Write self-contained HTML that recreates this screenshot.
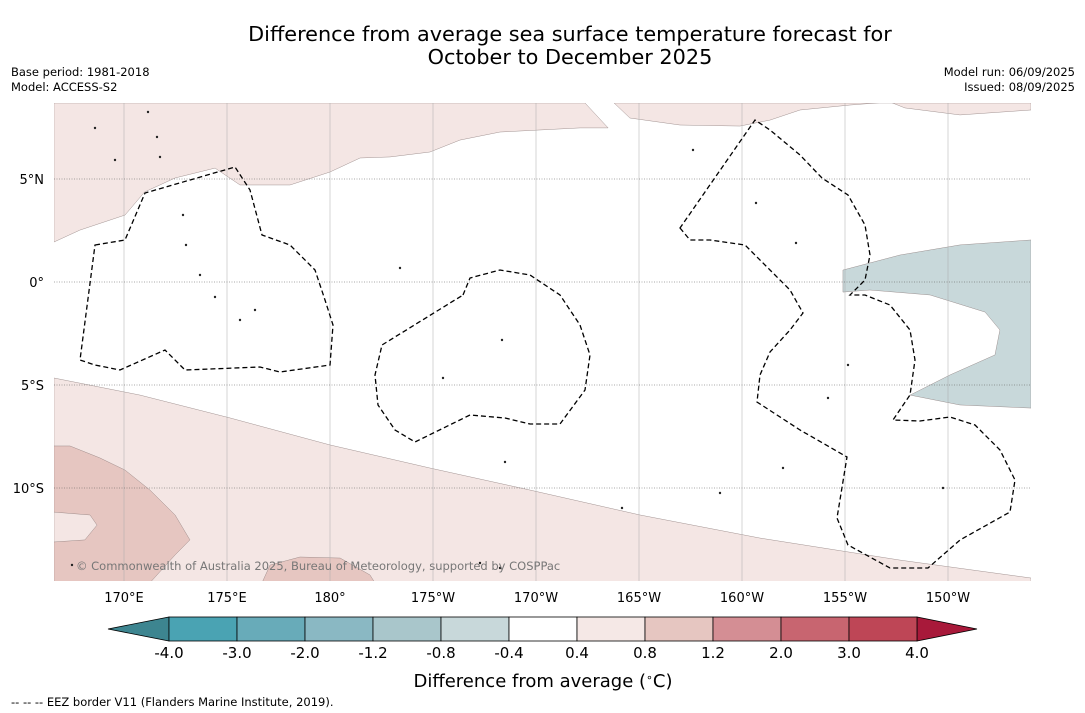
<!DOCTYPE html>
<html><head><meta charset="utf-8"><style>
body{margin:0;background:#fff;width:1085px;height:713px;overflow:hidden;font-family:"DejaVu Sans","Liberation Sans",sans-serif}
svg{position:absolute;left:0;top:0}
</style></head><body>
<svg id="s" width="1085" height="713" font-family="DejaVu Sans, Liberation Sans, sans-serif">
<text x="570" y="41" font-size="20.8" text-anchor="middle">Difference from average sea surface temperature forecast for</text>
<text x="570" y="64" font-size="20.8" text-anchor="middle">October to December 2025</text>
<text x="11" y="76" font-size="11.5">Base period: 1981-2018</text>
<text x="11" y="91" font-size="11.5">Model: ACCESS-S2</text>
<text x="1075" y="76" font-size="11.5" text-anchor="end">Model run: 06/09/2025</text>
<text x="1075" y="91" font-size="11.5" text-anchor="end">Issued: 08/09/2025</text>
<defs><clipPath id="mc"><rect x="54" y="103" width="977" height="478"/></clipPath></defs>
<g id="map" clip-path="url(#mc)"></g>
<g id="axes"></g>
<g id="cbar"></g>
<text x="543" y="687" font-size="18" text-anchor="middle">Difference from average (<tspan font-size="11" dy="-6">∘</tspan><tspan dy="6">C)</tspan></text>
<text x="11" y="706" font-size="11.5">--  --  -- EEZ border V11 (Flanders Marine Institute, 2019).</text>
</svg>
<script>
const lonTicks=[170,175,180,185,190,195,200,205,210];
const lonLabels=["170°E","175°E","180°","175°W","170°W","165°W","160°W","155°W","150°W"];
const latTicks=[5,0,-5,-10];
const latLabels=["5°N","0°","5°S","10°S"];
const cbBounds=[-4.0,-3.0,-2.0,-1.2,-0.8,-0.4,0.4,0.8,1.2,2.0,3.0,4.0];
const cbLabels=["-4.0","-3.0","-2.0","-1.2","-0.8","-0.4","0.4","0.8","1.2","2.0","3.0","4.0"];
const cbColors=["#4aa3b3","#68abb9","#8ab8c3","#a9c6cb","#c8d8da","#ffffff","#f5e8e6","#e6c6c1","#d48e94","#c86570","#be4656"];
const contourA=[[166.6,8.69],[166.6,1.94],[167.86,2.52],[170.05,3.25],[171.0,4.37],[172.48,5.05],[174.42,5.53],[175.63,4.71],[178.06,4.71],[180.0,5.34],[181.46,6.02],[182.91,6.07],[184.85,6.31],[186.31,6.89],[188.25,7.28],[192.14,7.48],[193.5,7.48],[192.38,8.69]];
const contourB=[[193.79,8.69],[194.56,7.96],[196.99,7.62],[199.9,7.57],[201.36,7.86],[202.82,8.35],[205.24,8.59],[207.18,8.74],[207.91,8.45],[210.58,8.11],[214.03,8.35],[214.03,8.69]];
const contourC=[[166.6,-4.66],[170.78,-5.49],[175.15,-6.6],[180.0,-7.91],[184.85,-9.03],[189.71,-10.1],[195.05,-11.31],[200.87,-12.43],[207.67,-13.5],[214.03,-14.37],[214.03,-14.6],[166.6,-14.6]];
const contourD=[[166.6,-7.96],[167.38,-7.96],[168.83,-8.54],[170.05,-9.13],[171.26,-10.1],[172.48,-11.31],[173.2,-12.52],[172.48,-13.25],[171.26,-14.6],[166.6,-14.6]];
const holeD=[[166.6,-11.17],[168.35,-11.31],[168.69,-11.8],[168.1,-12.52],[166.6,-12.62]];
const contourE=[[176.7,-14.6],[177.09,-13.74],[178.54,-13.35],[180.49,-13.4],[181.94,-14.22],[182.18,-14.6]];
const contourF=[[204.9,0.58],[207.67,1.31],[210.58,1.8],[214.03,2.04],[214.03,-6.12],[210.58,-5.97],[208.16,-5.49],[210.1,-4.51],[212.28,-3.54],[212.52,-2.33],[211.8,-1.46],[209.13,-0.63],[206.21,-0.39],[204.9,-0.49]];
const X=lon=>124+(lon-170)*20.6, Y=lat=>282-lat*20.6;
const NS="http://www.w3.org/2000/svg";
function mk(t,a,p){const e=document.createElementNS(NS,t);for(const k in a)e.setAttribute(k,a[k]);p.appendChild(e);return e;}
const map=document.getElementById('map'),axes=document.getElementById('axes'),cb=document.getElementById('cbar');
function poly(arr,fill,name){const e=mk('polygon',{points:arr.map(p=>X(p[0])+','+Y(p[1])).join(' '),fill:fill,stroke:'#8a7a78','stroke-width':0.4},map);

}
poly(contourA,'#f4e6e4','contour-north-west');
poly(contourB,'#f4e6e4','contour-north');
poly(contourC,'#f4e6e4','contour-south');
poly(contourD,'#e6c6c1','contour-south-west');
poly(holeD,'#f4e6e4','contour-hole');
poly(contourE,'#e6c6c1','contour-south-small');
poly(contourF,'#c8d8da','contour-east-cool');
lonTicks.forEach((l,i)=>{const g=mk('line',{x1:X(l),x2:X(l),y1:103,y2:581,stroke:'#aaa','stroke-width':0.5},map);


const t=mk('text',{x:X(l),y:602,'font-size':13,'text-anchor':'middle'},axes);t.textContent=lonLabels[i];

});
latTicks.forEach((l,i)=>{const g=mk('line',{x1:54,x2:1031,y1:Y(l),y2:Y(l),stroke:'#555','stroke-width':0.6,'stroke-dasharray':'1,1.5'},map);


const t=mk('text',{x:44,y:Y(l)+5,'font-size':13,'text-anchor':'end'},axes);t.textContent=latLabels[i];

});
const eez=["M95,245 L125,240 L145,193 L235,167 L250,190 L262,235 L290,245 L315,270 L325,300 L333,325 L330,365 L280,372 L260,367 L185,370 L165,350 L120,370 L95,365 L80,360 Z",
"M463,295 L470,278 L500,270 L530,275 L560,295 L580,325 L590,355 L585,390 L560,424 L530,424 L505,418 L470,415 L415,442 L395,430 L378,405 L375,375 L382,345 Z",
"M680,228 L690,240 L710,240 L745,245 L770,270 L790,290 L803,313 L790,330 L770,352 L760,375 L757,402 L800,430 L847,457 L837,518 L848,545 L890,568 L928,568 L960,540 L1010,512 L1015,480 L1000,450 L975,425 L950,417 L920,421 L893,420 L910,395 L915,360 L910,330 L890,305 L865,295 L850,295 L865,280 L870,255 L865,225 L848,195 L822,178 L800,155 L770,130 L755,120 Z"];
eez.forEach(d=>{const e=mk('path',{d:d,fill:'none',stroke:'#000','stroke-width':1.3,'stroke-dasharray':'5,3'},map);

});
[[157,137],[160,157],[183,215],[186,245],[200,275],[215,297],[240,320],[255,310],[72,565],[500,568],[480,563],[756,203],[796,243],[783,468],[720,493],[148,112],[95,128],[115,160],[400,268],[443,378],[502,340],[505,462],[622,508],[693,150],[848,365],[828,398],[943,488]].forEach(p=>{const e=mk('circle',{cx:p[0],cy:p[1],r:1.2,fill:'#222'},map);

});
const ct=mk('text',{x:76,y:570,'font-size':11.5,fill:'#777'},axes);ct.textContent='© Commonwealth of Australia 2025, Bureau of Meteorology, supported by COSPPac';


const n=cbColors.length,x0=169,x1=917,w=(x1-x0)/n,y0=617,h=24;
const lt=mk('polygon',{points:`${x0},${y0} ${x0},${y0+h} 108,${y0+h/2}`,fill:'#3d8590',stroke:'#000','stroke-width':0.8},cb);


const rt=mk('polygon',{points:`${x1},${y0} ${x1},${y0+h} 977,${y0+h/2}`,fill:'#a8193a',stroke:'#000','stroke-width':0.8},cb);


cbColors.forEach((c,i)=>{const r=mk('rect',{x:x0+i*w,y:y0,width:w,height:h,fill:c,stroke:'#000','stroke-width':0.8},cb);

});
cbBounds.forEach((b,i)=>{const t=mk('text',{x:x0+i*w,y:658,'font-size':15,'text-anchor':'middle'},cb);t.textContent=cbLabels[i];

});
</script>
</body></html>
